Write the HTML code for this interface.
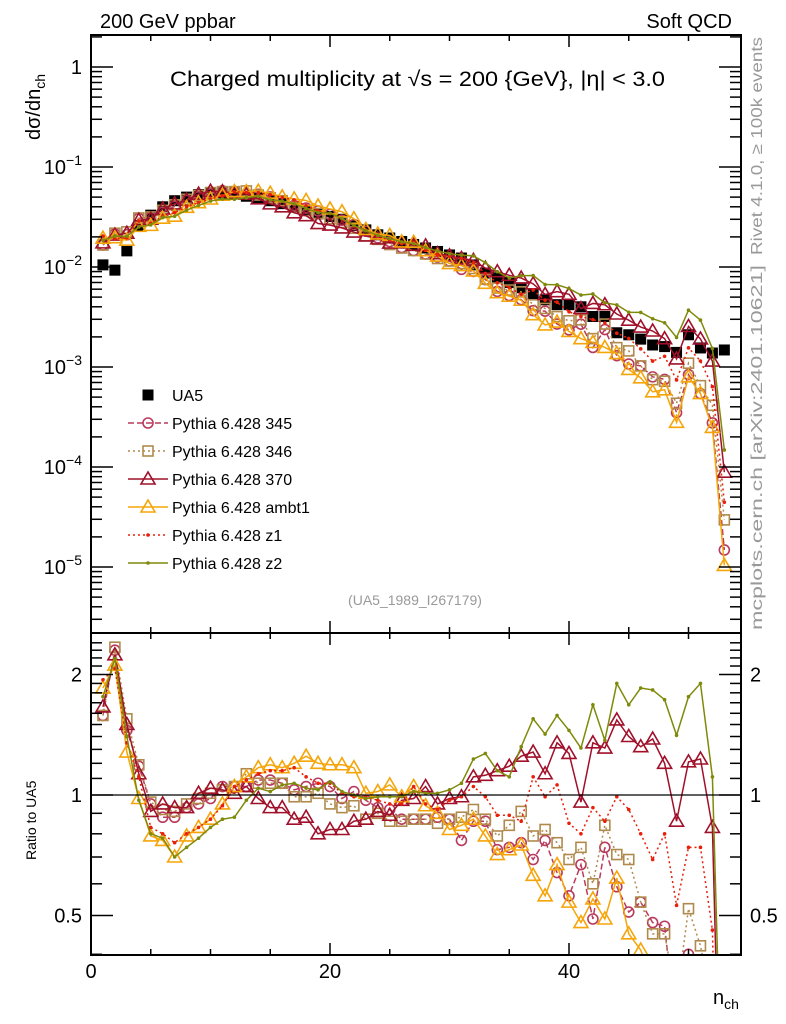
<!DOCTYPE html>
<html><head><meta charset="utf-8">
<style>
html,body{margin:0;padding:0;background:#fff;width:786px;height:1024px;overflow:hidden;}
svg{display:block;font-family:"Liberation Sans",sans-serif;}
</style></head>
<body>
<svg id="chart" width="786" height="1024" viewBox="0 0 786 1024" xmlns="http://www.w3.org/2000/svg">
<text x="100" y="28" font-size="20">200 GeV ppbar</text>
<text x="732" y="28" font-size="20" text-anchor="end">Soft QCD</text>
<text x="170" y="86" font-size="21" textLength="495" lengthAdjust="spacingAndGlyphs">Charged multiplicity at √s = 200 {GeV}, |η| &lt; 3.0</text>
<text x="415" y="605" font-size="14" fill="#999" text-anchor="middle">(UA5_1989_I267179)</text>
<text transform="translate(762,255) rotate(-90)" font-size="16" fill="#999" textLength="218" lengthAdjust="spacingAndGlyphs">Rivet 4.1.0, ≥ 100k events</text>
<text transform="translate(762,630) rotate(-90)" font-size="16" fill="#999" textLength="365" lengthAdjust="spacingAndGlyphs">mcplots.cern.ch [arXiv:2401.10621]</text>
<text transform="translate(40,140) rotate(-90)" font-size="20">dσ/dn<tspan font-size="14" dy="5">ch</tspan></text>
<text transform="translate(36,860) rotate(-90)" font-size="14">Ratio to UA5</text>
<text x="713" y="1004" font-size="20">n<tspan font-size="14" dy="5">ch</tspan></text>
<defs>
<clipPath id="cm"><rect x="91" y="35" width="650" height="598"/></clipPath>
<clipPath id="cr"><rect x="91" y="633" width="650" height="322"/></clipPath>
</defs>
<g id="main" clip-path="url(#cm)"></g>
<g id="ratio" clip-path="url(#cr)"></g>
<g id="axes"></g>
<g id="legend"></g>
</svg>
<script>
const nch = [];
for (let i = 1; i <= 53; i++) nch.push(i);
const ua5 = [0.0105,0.0093,0.0145,0.026,0.033,0.040,0.046,0.050,0.053,0.055,0.055,0.054,0.051,0.049,0.046,0.043,0.040,0.037,0.034,0.032,0.030,0.026,0.0235,0.021,0.0195,
0.018,0.0168,0.0155,0.0143,0.0132,0.0123,0.0105,0.0087,0.0078,0.007,0.0062,0.0053,0.0047,0.0042,0.0042,0.004,0.0032,0.0032,0.0022,0.0021,0.0019,0.00166,0.0016,0.0014,0.0021,0.00155,0.00138,0.00148];
const r345 = [1.58,2.3,1.45,1.18,0.95,0.88,0.88,0.93,0.95,0.98,1.05,1.05,1.05,1.09,1.09,1.07,1.03,1.05,1.07,1.05,0.98,1.02,0.97,0.93,0.92,
0.87,0.87,0.87,0.88,0.87,0.77,0.86,0.86,0.73,0.74,0.76,0.69,0.77,0.64,0.56,0.67,0.49,0.74,0.59,0.51,0.54,0.48,0.47,0.25,0.4,0.35,0.2,0.01];
const r346 = [1.58,2.34,1.55,1.19,0.96,0.92,0.91,0.95,0.98,1.01,1.03,1.05,1.13,1.07,1.07,1.07,0.99,0.99,1.01,0.95,0.93,0.94,0.87,0.9,0.86,
0.86,0.87,0.87,0.85,0.87,0.88,0.92,0.87,0.79,0.84,0.91,0.79,0.82,0.76,0.69,0.74,0.6,0.84,0.71,0.69,0.54,0.45,0.45,0.31,0.52,0.42,0.3,0.02];
const r370 = [1.66,2.24,1.5,1.13,0.91,0.95,0.93,0.93,1.01,1.04,1.03,1.01,1.05,0.98,0.93,0.93,0.87,0.88,0.8,0.82,0.82,0.86,0.87,0.91,0.89,
0.97,0.98,1.05,0.95,0.98,0.99,1.11,1.12,1.15,1.18,1.25,1.28,1.13,1.35,1.27,0.96,1.35,1.31,1.54,1.4,1.32,1.38,1.2,0.86,1.21,1.23,0.83,0.06];
const rAmbt1 = [1.85,2.11,1.28,0.98,0.79,0.77,0.7,0.79,0.83,0.87,0.95,1.05,1.11,1.17,1.19,1.17,1.2,1.25,1.2,1.19,1.19,1.17,1.01,1.02,1.06,
0.99,1.05,0.94,0.9,0.82,0.84,0.87,0.79,0.71,0.73,0.75,0.63,0.56,0.67,0.54,0.48,0.55,0.49,0.62,0.45,0.41,0.34,0.37,0.2,0.38,0.35,0.18,0.007];
const rZ1 = [1.94,2.07,1.35,1.11,0.83,0.8,0.76,0.8,0.83,0.87,0.94,1.05,1.09,1.13,1.15,1.15,1.17,1.11,1.07,1.07,1.01,0.99,0.99,0.97,0.95,
0.95,1.05,0.95,0.92,0.97,0.99,1.05,0.99,0.89,0.89,0.86,1.11,0.99,1.06,0.85,0.8,0.93,0.86,0.99,0.92,0.8,0.69,0.8,0.53,0.74,0.74,0.46,0.03];
const rZ2 = [1.76,2.19,1.4,0.97,0.8,0.78,0.7,0.74,0.78,0.83,0.87,0.88,0.97,1.04,1.02,1.06,1.07,1.04,1.03,1.08,1.02,1.0,0.98,0.99,0.99,
0.99,1.02,1.01,1.01,1.03,1.07,1.23,1.27,1.15,1.11,1.32,1.55,1.42,1.58,1.45,1.31,1.68,1.37,1.9,1.68,1.85,1.83,1.73,1.41,1.76,1.9,1.11,0.1];
const mainTicks = ["1","10","10","10","10","10"];
const mainExp = ["","−1","−2","−3","−4","−5"];
const ratioTickVals = [2,1,0.5];
const ratioTickLabels = ["2","1","0.5"];
const xTickVals = [0,20,40];
const legendLabels = ["UA5","Pythia 6.428 345","Pythia 6.428 346","Pythia 6.428 370","Pythia 6.428 ambt1","Pythia 6.428 z1","Pythia 6.428 z2"];

const NS = "http://www.w3.org/2000/svg";
const X0 = 91, X1 = 741;
const xs = v => X0 + v * 11.95;
const ym = v => 67 - Math.log10(v) * 100;
const yr = v => 795 - Math.log2(v) * 120.5;
function mk(tag, attrs, parent) {
  const e = document.createElementNS(NS, tag);
  for (const k in attrs) e.setAttribute(k, attrs[k]);
  parent.appendChild(e);
  return e;
}
const gMain = document.getElementById("main");
const gRatio = document.getElementById("ratio");
const gAxes = document.getElementById("axes");
const gLeg = document.getElementById("legend");

const series = [
  {key:"345", r:r345, color:"#b83a5c", dash:"6,3", marker:"circle"},
  {key:"346", r:r346, color:"#b08a4c", dash:"2,3", marker:"square"},
  {key:"370", r:r370, color:"#a0102a", dash:"", marker:"triangle"},
  {key:"ambt1", r:rAmbt1, color:"#f5a50a", dash:"", marker:"triangle"},
  {key:"z1", r:rZ1, color:"#e8200a", dash:"2,3", marker:"dot"},
  {key:"z2", r:rZ2, color:"#7f8a0a", dash:"", marker:"dot"}
];
function marker(g, type, x, y, color, name) {
  let e;
  if (type === "circle") e = mk("circle", {cx:x, cy:y, r:5, fill:"none", stroke:color, "stroke-width":1.6}, g);
  else if (type === "square") e = mk("rect", {x:x-5, y:y-5, width:10, height:10, fill:"none", stroke:color, "stroke-width":1.6}, g);
  else if (type === "triangle") e = mk("polygon", {points:`${x},${y-7} ${x-7},${y+5} ${x+7},${y+5}`, fill:"none", stroke:color, "stroke-width":1.6}, g);
  else if (type === "filled") e = mk("rect", {x:x-5.5, y:y-5.5, width:11, height:11, fill:color}, g);
  else e = mk("circle", {cx:x, cy:y, r:1.8, fill:color}, g);
  
  
  return e;
}

ua5.forEach((v, i) => {
  marker(gMain, "filled", xs(nch[i]), ym(v), "#000", "ua5-point");
});
series.forEach(s => {
  const vals = s.r.map((r, i) => r * ua5[i]);
  const ptsM = vals.map((v, i) => `${xs(nch[i])},${ym(v)}`).join(" ");
  const pl = mk("polyline", {points:ptsM, fill:"none", stroke:s.color, "stroke-width":1.5, "stroke-dasharray":s.dash}, gMain);
  
  
  vals.forEach((v, i) => marker(gMain, s.marker, xs(nch[i]), ym(v), s.color, 'point-' + s.key));
  const ptsR = s.r.map((r, i) => `${xs(nch[i])},${yr(r)}`).join(" ");
  const pr = mk("polyline", {points:ptsR, fill:"none", stroke:s.color, "stroke-width":1.5, "stroke-dasharray":s.dash}, gRatio);
  
  
  s.r.forEach((r, i) => marker(gRatio, s.marker, xs(nch[i]), yr(r), s.color, 'ratio-point-' + s.key));
});
const ul = mk("line", {x1:X0, x2:X1, y1:yr(1), y2:yr(1), stroke:"#000", "stroke-width":1.3}, gRatio);



const f1 = mk("rect", {x:X0, y:35, width:650, height:598, fill:"none", stroke:"#000", "stroke-width":2}, gAxes);


const f2 = mk("rect", {x:X0, y:633, width:650, height:322, fill:"none", stroke:"#000", "stroke-width":2}, gAxes);



for (let v = 0; v <= 54; v += 5) {
  const major = v % 20 === 0;
  const L = major ? 12 : 6;
  const x = xs(v);
  [[35, 1], [633, -1], [633, 1], [955, -1]].forEach(([y0, d]) => {
    const t = mk("line", {x1:x, x2:x, y1:y0, y2:y0 + d * L, stroke:"#000", "stroke-width":1.5}, gAxes);
    
    
  });
}
xTickVals.forEach(v => {
  const t = mk("text", {x:xs(v), y:978, "font-size":20, "text-anchor":"middle"}, gAxes);
  t.textContent = String(v);
  
  
});
for (let e = 0; e >= -6; e--) {
  for (let m = 1; m <= 9; m++) {
    const v = m * Math.pow(10, e);
    const y = ym(v);
    if (y < 35 || y > 633) continue;
    const L = m === 1 ? 22 : 11;
    [[X0, 1], [X1, -1]].forEach(([x0, d]) => {
      const t = mk("line", {x1:x0, x2:x0 + d * L, y1:y, y2:y, stroke:"#000", "stroke-width":1.5}, gAxes);
      
      
    });
  }
}
mainTicks.forEach((b, i) => {
  const y = ym(Math.pow(10, -i)) + 7;
  const t = mk("text", {x:82, y:y, "font-size":20, "text-anchor":"end"}, gAxes);
  
  
  if (mainExp[i]) {
    t.textContent = b;
    const sp = mk("tspan", {dy:-9, "font-size":14}, t);
    sp.textContent = mainExp[i];
  } else t.textContent = b;
});
for (let v = 0.4; v <= 2.5; v += 0.1) {
  const y = yr(v);
  if (y < 633 || y > 955) continue;
  const major = Math.abs(v - 1) < 1e-6 || Math.abs(v - 2) < 1e-6 || Math.abs(v - 0.5) < 1e-6;
  const L = major ? 22 : 11;
  [[X0, 1], [X1, -1]].forEach(([x0, d]) => {
    const t = mk("line", {x1:x0, x2:x0 + d * L, y1:y, y2:y, stroke:"#000", "stroke-width":1.5}, gAxes);
    
    
  });
}
ratioTickVals.forEach((v, i) => {
  const t = mk("text", {x:82, y:yr(v) + 7, "font-size":20, "text-anchor":"end"}, gAxes);
  t.textContent = ratioTickLabels[i];
  
  
  const t2 = mk("text", {x:750, y:yr(v) + 7, "font-size":20}, gAxes);
  t2.textContent = ratioTickLabels[i];
  
  
});

const legMarkers = ["filled", "circle", "square", "triangle", "triangle", "dot", "dot"];
const legColors = ["#000"].concat(series.map(s => s.color));
const legDash = [null].concat(series.map(s => s.dash));
legendLabels.forEach((lab, i) => {
  const y = 395 + i * 28;
  const g = mk("g", {}, gLeg);
  
  
  if (i > 0) mk("line", {x1:128, x2:168, y1:y, y2:y, stroke:legColors[i], "stroke-width":1.5, "stroke-dasharray":legDash[i]}, g);
  marker(g, legMarkers[i], 148, y, legColors[i], 'legend-marker');
  const t = mk("text", {x:172, y:y + 6, "font-size":16}, g);
  t.textContent = lab;
});
</script>
</body></html>
